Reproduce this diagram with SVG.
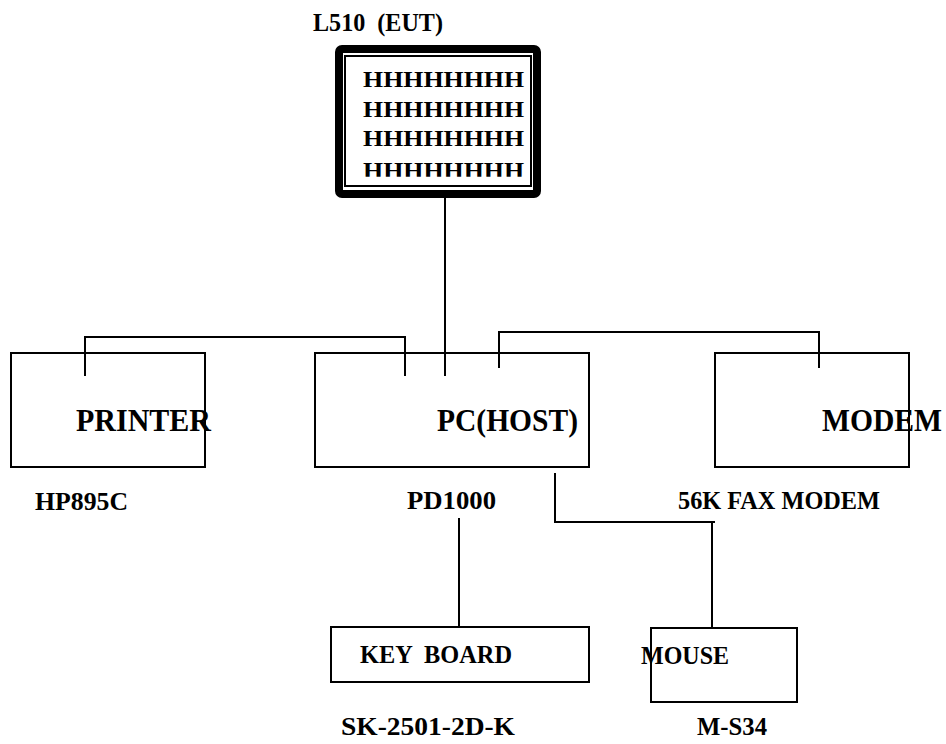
<svg xmlns="http://www.w3.org/2000/svg" width="946" height="744" viewBox="0 0 946 744">
<style>
.box{fill:none;stroke:#000;stroke-width:2}
.ln{fill:none;stroke:#000;stroke-width:2}
text{font-family:"Liberation Serif","Times New Roman",serif;font-weight:bold;fill:#000;white-space:pre}
.big{font-size:31px}
.lbl{font-size:26px}
.h{font-size:24px}
</style>
<defs>
<clipPath id="scr"><rect x="346" y="57" width="184" height="119.7"/></clipPath>
</defs>
<rect width="946" height="744" fill="#fff"/>
<g id="connectors">
<path class="ln" d="M445,197 V376"/>
<path class="ln" d="M85,376 V337 H405 V376"/>
<path class="ln" d="M499,368 V332 H819 V368"/>
<path class="ln" d="M555,473 V522 H715"/>
<path class="ln" d="M712,522 V628"/>
<path class="ln" d="M459,518 V627"/>
</g>
<g id="eut">
<text class="lbl" x="313" y="31" textLength="130" lengthAdjust="spacingAndGlyphs">L510  (EUT)</text>
<rect x="339" y="49" width="198" height="145" rx="3" fill="none" stroke="#000" stroke-width="8"/>
<rect x="345" y="56" width="186" height="130" class="box" stroke-width="1.5"/>
<g clip-path="url(#scr)">
<text class="h" x="363" y="87.3" textLength="161" lengthAdjust="spacingAndGlyphs">HHHHHHHH</text>
<text class="h" x="363" y="117.3" textLength="161" lengthAdjust="spacingAndGlyphs">HHHHHHHH</text>
<text class="h" x="363" y="146.3" textLength="161" lengthAdjust="spacingAndGlyphs">HHHHHHHH</text>
<text class="h" x="363" y="177.5" textLength="161" lengthAdjust="spacingAndGlyphs">HHHHHHHH</text>
</g>
</g>
<g id="printer">
<rect class="box" x="11" y="353" width="194" height="114"/>
<text class="big" x="76" y="431" textLength="135" lengthAdjust="spacingAndGlyphs">PRINTER</text>
<text class="lbl" x="35" y="510" textLength="93" lengthAdjust="spacingAndGlyphs">HP895C</text>
</g>
<g id="pc">
<rect class="box" x="315" y="353" width="274" height="114"/>
<text class="big" x="437" y="431" textLength="141" lengthAdjust="spacingAndGlyphs">PC(HOST)</text>
<text class="lbl" x="407" y="509" textLength="89" lengthAdjust="spacingAndGlyphs">PD1000</text>
</g>
<g id="modem">
<rect class="box" x="715" y="353" width="194" height="114"/>
<text class="big" x="822" y="431" textLength="120" lengthAdjust="spacingAndGlyphs">MODEM</text>
<text class="lbl" x="678" y="509" textLength="202" lengthAdjust="spacingAndGlyphs">56K FAX MODEM</text>
</g>
<g id="keyboard">
<rect class="box" x="331" y="627" width="258" height="55"/>
<text class="lbl" x="360" y="663" textLength="152" lengthAdjust="spacingAndGlyphs">KEY  BOARD</text>
<text class="lbl" x="341" y="735" textLength="174" lengthAdjust="spacingAndGlyphs">SK-2501-2D-K</text>
</g>
<g id="mouse">
<rect class="box" x="651" y="628" width="146" height="74"/>
<text class="lbl" x="641" y="664" textLength="88" lengthAdjust="spacingAndGlyphs">MOUSE</text>
<text class="lbl" x="697" y="735" textLength="70" lengthAdjust="spacingAndGlyphs">M-S34</text>
</g>
</svg>
